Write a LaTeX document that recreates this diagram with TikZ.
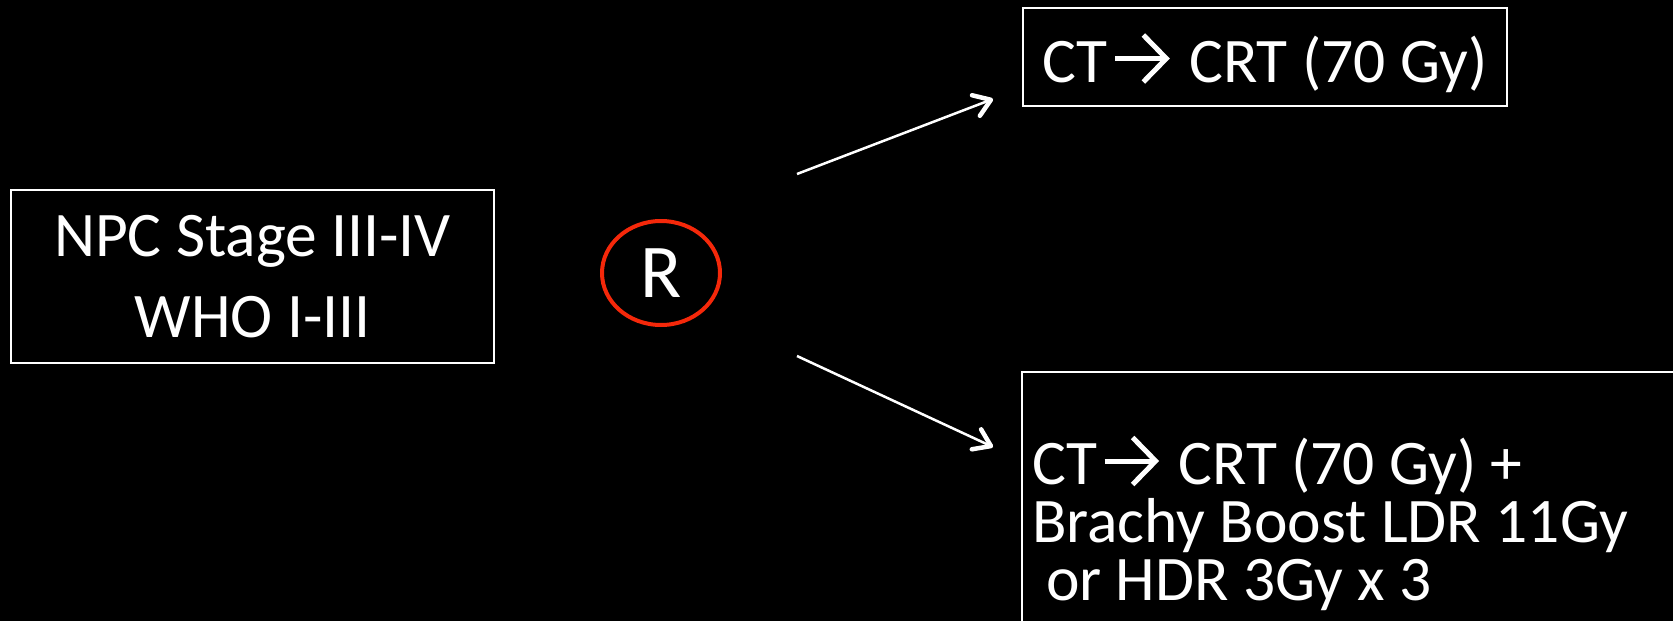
\documentclass[tikz,border=0pt]{standalone}
\usepackage{fontspec}
\setmainfont{Carlito}
\usetikzlibrary{shapes.geometric,arrows.meta}
\definecolor{randred}{RGB}{245,40,10}
% bold chevron arrow used inside the treatment labels
\newcommand{\ctarrow}{\hspace{5pt}\tikz[baseline=0pt]{%
  \draw[white,line width=5pt] (0pt,23.5pt) -- (49pt,23.5pt);
  \draw[white,line width=5pt,line join=miter,line cap=butt] (28pt,47pt) -- (51pt,23.5pt) -- (28pt,0pt);}\hspace{6pt}}
\begin{document}
\begin{tikzpicture}[x=1pt,y=-1pt,
  box/.style={draw=white,line width=2pt,text=white,inner sep=0pt},
  flow/.style={draw=white,line width=2.5pt,
    -{Straight Barb[length=16pt,width=22pt,line width=4.5pt,round]}}]
\path[use as bounding box,clip] (0,0) rectangle (1673,621);
\fill[black] (0,0) rectangle (1673,621);

% patient group
\node[box,minimum width=483pt,minimum height=173pt,align=center,
  font=\fontsize{63.5}{81}\selectfont] (pat) at (252.5,276.5)
  {NPC Stage III-IV\\WHO I-III};

% randomisation
\node[ellipse,draw=randred,line width=4pt,inner sep=0pt,
  minimum width=118pt,minimum height=104pt,text=white,
  font=\fontsize{76}{90}\selectfont] (rand) at (661,273) {R};

% arm A
\node[box,minimum width=484pt,minimum height=98pt,text height=50pt,text depth=0pt,
  font=\fontsize{63.5}{80}\selectfont] (armA) at (1265,57)
  {CT\ctarrow{} CRT (70 Gy)};

% arm B (runs past the page edge)
\node[box,anchor=north west,inner xsep=10pt,inner ysep=63pt,text width=640pt,
  align=flush left,font=\fontsize{63.5}{58}\selectfont] (armB) at (1021,371)
  {CT\ctarrow{} CRT (70 Gy) +\\Brachy Boost LDR 11Gy\\\hspace*{14pt}or HDR 3Gy x 3};

\coordinate (a1s) at (797,174);
\coordinate (a1e) at (993,99);
\coordinate (a2s) at (797,356);
\coordinate (a2e) at (993,447);
\draw[flow] (a1s) -- (a1e);
\draw[flow] (a2s) -- (a2e);
\end{tikzpicture}
\end{document}
